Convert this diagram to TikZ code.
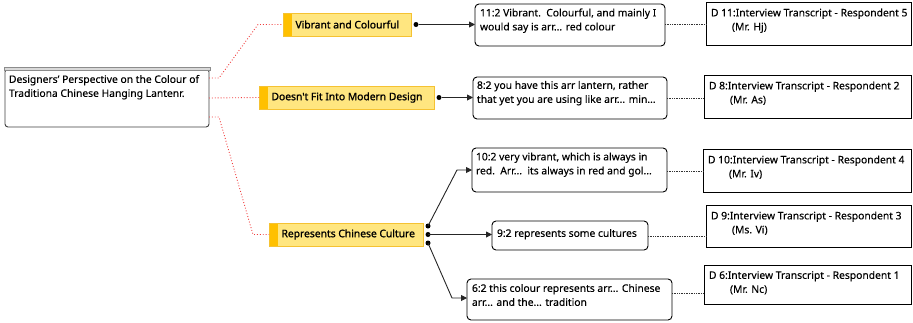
\documentclass[tikz,border=0pt]{standalone}
\usepackage{fontspec}
\setmainfont{Noto Sans}[FakeBold=0.2]
\newfontfamily\labfont{Noto Sans}[FakeBold=1.4]
\usetikzlibrary{arrows.meta}
\definecolor{labfill}{HTML}{FFE680}
\definecolor{labstripe}{HTML}{FFC000}
\definecolor{labedge}{HTML}{F5C232}
\definecolor{linkred}{HTML}{F03C3C}
\definecolor{topbar}{HTML}{D9D9D9}
\begin{document}
\begin{tikzpicture}[x=1pt,y=-1pt,
  font=\fontsize{10.3}{14}\selectfont,
  every node/.style={inner sep=0pt, outer sep=0pt},
  mainbox/.style={draw=black!75, line width=0.9pt, rounded corners=3pt, fill=white},
  qbox/.style={draw=black, line width=0.9pt, rounded corners=4pt, fill=white},
  dbox/.style={draw=black, line width=0.8pt, fill=white},
  txt/.style={align=left, anchor=north west},
  label/.style={draw=labedge, fill=labfill, line width=0.8pt, minimum height=23pt,
    inner xsep=12.5pt, anchor=west, font=\labfont\fontsize{10.3}{14}\selectfont,
    path picture={\fill[labstripe] (path picture bounding box.north west)
      rectangle ([xshift=9pt]path picture bounding box.south west);}},
  redlink/.style={linkred, dotted, line width=0.9pt},
  reflink/.style={black!80, densely dotted, line width=0.7pt},
  dot/.style={circle, fill=black, minimum size=5pt},
  arr/.style={black!85, line width=0.9pt, -{Triangle[length=6pt,width=6pt]}}
]
\useasboundingbox (0,0) rectangle (913,322);

% root node: the research question
\node[mainbox, minimum width=204, minimum height=58] (root) at (107,98) {};
\node[draw=black!45, fill=topbar, line width=0.6pt, minimum width=206, minimum height=3.5] (rootbar) at (107,69) {};
\node[txt] (roott) at (9,75) {Designers' Perspective on the Colour of\\Traditiona Chinese Hanging Lantenr.};

% theme labels
\node[label] (l1) at (283,24.5) {\makebox[103pt][l]{Vibrant and Colourful}};
\node[label] (l2) at (259,97.5) {\makebox[150pt][l]{Doesn't Fit Into Modern Design}};
\node[label] (l3) at (269,234.5) {\makebox[129pt][l]{Represents Chinese Culture}};

% quotation boxes
\node[qbox, minimum width=190, minimum height=42] (q11) at (570,25) {};
\node[txt] (q11t) at (480,8.5) {11:2 Vibrant.\ \ Colourful, and mainly I\\would say is arr... red colour};
\node[qbox, minimum width=194, minimum height=42] (q8) at (570,98) {};
\node[txt] (q8t) at (477,81) {8:2 you have this arr lantern, rather\\that yet you are using like arr... min...};
\node[qbox, minimum width=195, minimum height=44] (q10) at (569.5,170) {};
\node[txt] (q10t) at (476,152.5) {10:2 very vibrant, which is always in\\red.\ \ Arr...\ \ its always in red and gol...};
\node[qbox, minimum width=156, minimum height=29] (q9) at (570,235.5) {};
\node[txt] (q9t) at (497,229) {9:2 represents some cultures};
\node[qbox, minimum width=205, minimum height=41] (q6) at (569.5,299.5) {};
\node[txt] (q6t) at (472,284) {6:2 this colour represents arr... Chinese\\arr... and the... tradition};

% source documents
\node[dbox, minimum width=205, minimum height=43] (d11) at (808.5,23.5) {};
\node[txt] (d11t) at (711,8.5) {D 11:Interview Transcript - Respondent 5\\\hspace*{21pt}(Mr. Hj)};
\node[dbox, minimum width=207, minimum height=43] (d8) at (807.5,97) {};
\node[txt] (d8t) at (709,81.5) {D 8:Interview Transcript - Respondent 2\\\hspace*{21pt}(Mr. As)};
\node[dbox, minimum width=208, minimum height=43] (d10) at (807,170.5) {};
\node[txt] (d10t) at (708,155.5) {D 10:Interview Transcript - Respondent 4\\\hspace*{21pt}(Mr. Iv)};
\node[dbox, minimum width=205, minimum height=42] (d9) at (808.5,226) {};
\node[txt] (d9t) at (711,211.5) {D 9:Interview Transcript - Respondent 3\\\hspace*{21pt}(Ms. Vi)};
\node[dbox, minimum width=207, minimum height=39] (d6) at (807.5,285) {};
\node[txt] (d6t) at (709,271) {D 6:Interview Transcript - Respondent 1\\\hspace*{21pt}(Mr. Nc)};

% red dotted links from the root to the themes
\draw[redlink] ([shift={(0,-20)}]root.east) -- ++(10,0) -- (258,24.5) -- (l1.west);
\draw[redlink] (root.east) -- (l2.west);
\draw[redlink] ([shift={(0,19)}]root.east) -- ++(10,0) -- (253,234.5) -- (l3.west);

% theme to quotation arrows
\node[dot] (p1) at (416,24.5) {};
\draw[arr] (p1) -- (q11.west |- p1);
\node[dot] (p2) at (439,97.5) {};
\draw[arr] (p2) -- (q8.west |- p2);
\node[dot] (p3a) at (428,226) {};
\node[dot] (p3b) at (428,234.5) {};
\node[dot] (p3c) at (428,243) {};
\coordinate (k10) at (457,170);
\coordinate (k6) at (452,298);
\draw[arr] (p3a.center) -- (k10) -- (q10.west |- k10);
\draw[arr] (p3b.center) -- (q9.west |- p3b);
\draw[arr] (p3c.center) -- (k6) -- (q6.west |- k6);

% quotation to document links
\draw[reflink] (q11.east |- 0,24) -- (d11.west |- 0,24);
\draw[reflink] (q8.east |- 0,98) -- (d8.west |- 0,98);
\draw[reflink] (q10.east |- 0,171) -- (d10.west |- 0,171);
\draw[reflink] (q9.east |- 0,236) -- (d9.west |- 0,236);
\draw[reflink] (q6.east |- 0,293) -- (d6.west |- 0,293);
\end{tikzpicture}
\end{document}
